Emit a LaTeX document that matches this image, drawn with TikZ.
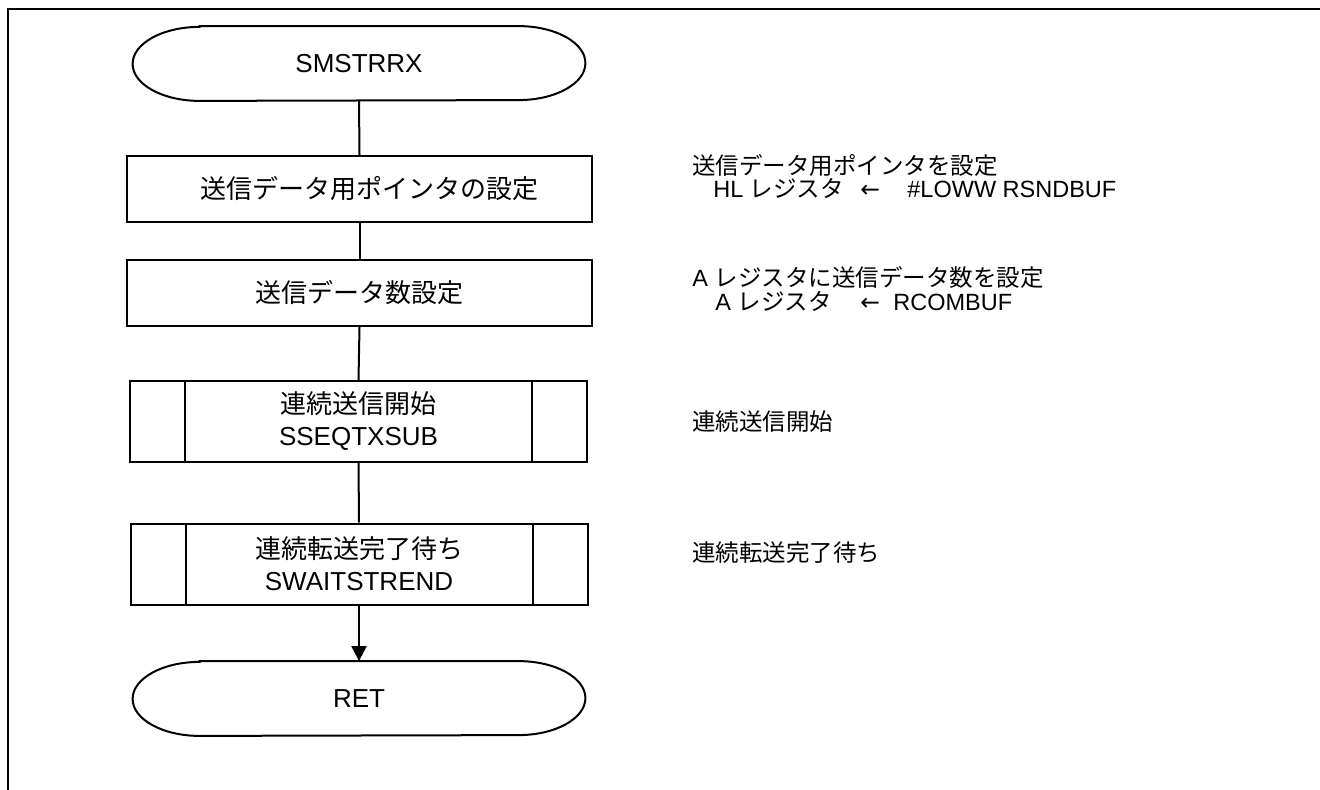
\documentclass[tikz,border=0pt]{standalone}
\usepackage{fontspec}
\setmainfont{Liberation Sans}
\newfontfamily\jp{Noto Sans CJK JP}
\newfontfamily\sym{DejaVu Sans}
\usetikzlibrary{arrows.meta}
\tikzset{
  lw/.style={line width=1pt},
  term/.style={shape=rectangle, minimum width=226pt, minimum height=37pt, inner sep=0pt, font=\fontsize{13}{16}\selectfont},
  proc/.style={draw, lw, shape=rectangle, minimum width=232.5pt, minimum height=33pt, inner sep=0pt, font=\fontsize{13}{16}\selectfont\jp},
  subr/.style={draw, lw, shape=rectangle, minimum width=228.5pt, minimum height=40.5pt, inner sep=0pt, align=center, font=\fontsize{13}{16}\selectfont},
  note/.style={anchor=base west, inner sep=0pt, font=\fontsize{11.75}{13}\selectfont},
  flow/.style={lw},
  arr/.style={lw, -{Triangle[width=7.5pt,length=7.5pt]}}
}
\newcommand\termoutline[1]{%
  \draw[lw] ([xshift=33.5pt]#1.north west) -- ([xshift=-33.5pt]#1.north east)
    arc[start angle=90, end angle=-90, x radius=33.5pt, y radius=18.5pt]
    -- ([xshift=33.5pt]#1.south west)
    arc[start angle=270, end angle=90, x radius=33.5pt, y radius=18.5pt] -- cycle;}
\newcommand\subrlines[1]{%
  \draw[lw] ([xshift=28pt]#1.north west) -- ([xshift=28pt]#1.south west);
  \draw[lw] ([xshift=-28pt]#1.north east) -- ([xshift=-28pt]#1.south east);}
\begin{document}
\begin{tikzpicture}[x=0.5pt,y=-0.5pt]
\useasboundingbox (0,0) rectangle (1320,790);
\draw[line width=1pt] (8,790) -- (8,9) -- (1320,9);

\node[term] (start) at (359,63.5) {SMSTRRX};
\termoutline{start}
\node[proc] (p1) at (359.5,189) {\hspace*{10pt}送信データ用ポインタの設定};
\node[proc] (p2) at (359.5,293) {送信データ数設定};
\node[subr] (s3) at (358.5,421.5) {{\jp 連続送信開始}\\SSEQTXSUB};
\subrlines{s3}
\node[subr] (s4) at (359,564) {{\jp 連続転送完了待ち}\\SWAITSTREND};
\subrlines{s4}
\node[term] (ret) at (359,698.5) {RET};
\termoutline{ret}

\draw[flow] (start.south) -- (p1.north);
\draw[flow] (p1.south) -- (p2.north);
\draw[flow] (p2.south) -- (s3.north);
\draw[flow] (s3.south) -- (s4.north);
\draw[arr] (s4.south) -- (ret.north);

\node[note] (n1a) at (692,175) {\jp 送信データ用ポインタを設定};
\node[note] (n1b) at (713,198) {\makebox[73.5pt][l]{HL {\jp レジスタ}}\makebox[23.5pt][l]{\sym ←}\#LOWW RSNDBUF};
\node[note] (n2a) at (692,287) {A {\jp レジスタに送信データ数を設定}};
\node[note] (n2b) at (715,311) {\makebox[72.5pt][l]{A {\jp レジスタ}}\makebox[16.5pt][l]{\sym ←}RCOMBUF};
\node[note] (n3) at (692,430) {\jp 連続送信開始};
\node[note] (n4) at (692,561) {\jp 連続転送完了待ち};
\end{tikzpicture}
\end{document}
